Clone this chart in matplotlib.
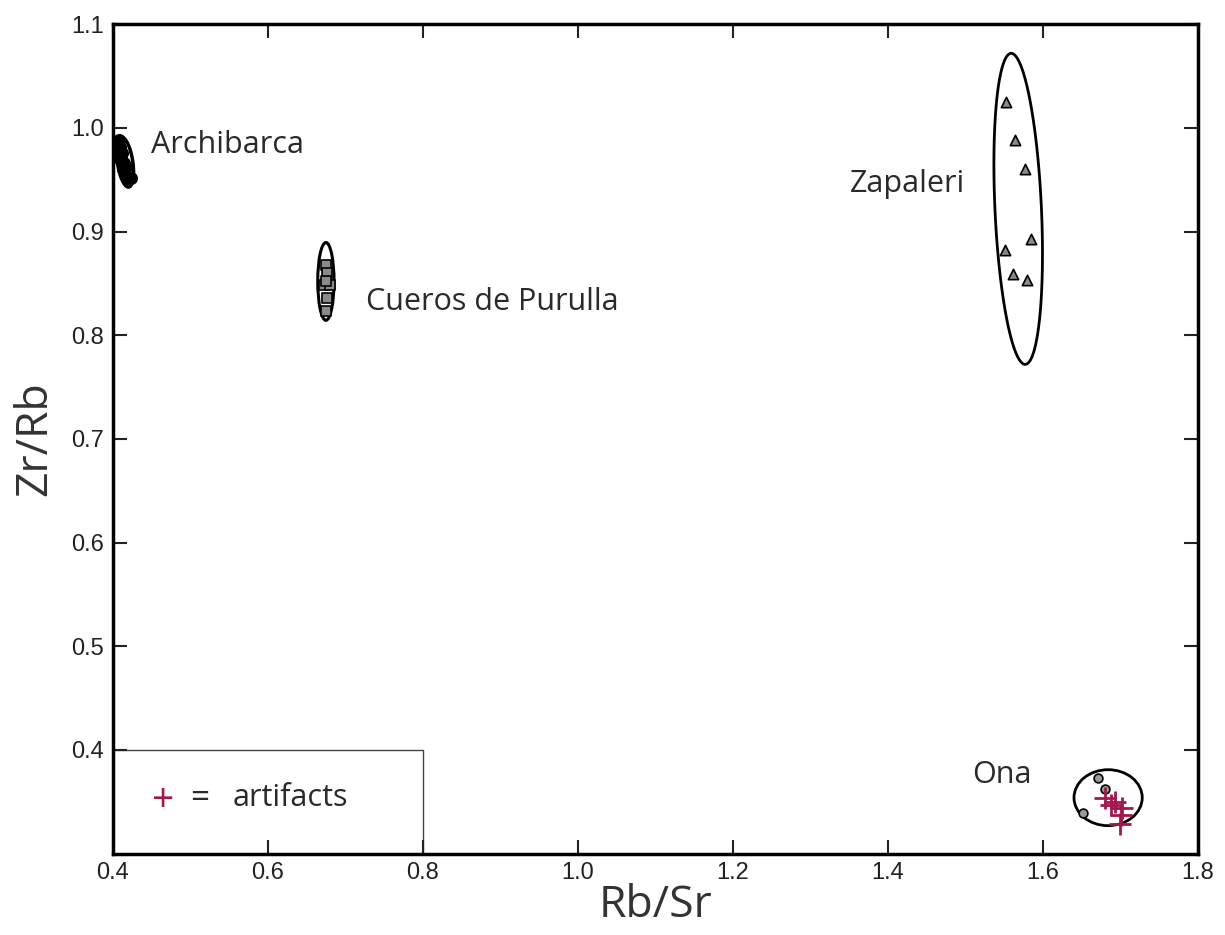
import matplotlib
matplotlib.use("Agg")
import matplotlib.pyplot as plt
import numpy as np
from matplotlib.patches import Ellipse, Polygon

# ---- data ----
archibarca_x = [0.408, 0.410, 0.412, 0.409, 0.414, 0.413, 0.416, 0.419, 0.423, 0.411, 0.417]
archibarca_y = [0.988, 0.982, 0.976, 0.970, 0.966, 0.960, 0.956, 0.952, 0.952, 0.974, 0.962]

cueros_x = [0.675, 0.677, 0.672, 0.680, 0.675, 0.676, 0.675]
cueros_y = [0.868, 0.860, 0.849, 0.849, 0.852, 0.836, 0.823]

zapaleri_x = [1.552, 1.564, 1.577, 1.585, 1.551, 1.561, 1.579]
zapaleri_y = [1.025, 0.988, 0.960, 0.893, 0.882, 0.859, 0.853]

ona_x = [1.671, 1.680, 1.652]
ona_y = [0.373, 0.362, 0.339]

artifact_x = [1.680, 1.693, 1.702, 1.701, 1.699, 1.688]
artifact_y = [0.354, 0.350, 0.344, 0.337, 0.329, 0.347]

source_names = ["Archibarca", "Cueros de Purulla", "Zapaleri", "Ona"]
label_pos = [(0.450, 0.984), (0.727, 0.832), (1.351, 0.946), (1.508, 0.376)]

x_ticks = [0.4, 0.6, 0.8, 1.0, 1.2, 1.4, 1.6, 1.8]
y_ticks = [0.4, 0.5, 0.6, 0.7, 0.8, 0.9, 1.0, 1.1]

crimson = "#a3174e"
label_font = ["Open Sans", "DejaVu Sans"]
tick_font = ["Liberation Sans", "DejaVu Sans"]
txt_col = "#2a2a2a"

fig = plt.figure(figsize=(12.25, 9.35), dpi=100)
ax = fig.add_axes([0.092, 0.087, 0.886, 0.887])
ax.set_xlim(0.4, 1.8)
ax.set_ylim(0.3, 1.1)

# groups
ax.scatter(archibarca_x, archibarca_y, s=70, c="black", edgecolors="black", zorder=3)
ax.scatter(cueros_x, cueros_y, s=45, marker="s", c="#8a8a8a", edgecolors="black", linewidths=1.2, zorder=3)
ax.scatter(zapaleri_x, zapaleri_y, s=55, marker="^", c="#8a8a8a", edgecolors="black", linewidths=1.2, zorder=3)
ax.scatter(ona_x, ona_y, s=40, marker="o", c="#9a9a9a", edgecolors="black", linewidths=1.2, zorder=3)
ax.scatter(artifact_x, artifact_y, s=260, marker="+", c=crimson, linewidths=2.0, zorder=4)

# enclosing ellipses
def sheared_ellipse(cx, cy, w, h, k):
    t = np.linspace(0, 2 * np.pi, 200)
    y = cy + h / 2 * np.sin(t)
    x = cx + w / 2 * np.cos(t) + k * (y - cy)
    return np.column_stack([x, y])

ax.add_patch(Polygon(sheared_ellipse(1.568, 0.922, 0.060, 0.300, -0.06), closed=True,
                     fill=False, ec="black", lw=2.0, zorder=2))
ax.add_patch(Ellipse((0.675, 0.852), 0.021, 0.075, fill=False, ec="black", lw=2.2, zorder=2))
ax.add_patch(Polygon(sheared_ellipse(0.416, 0.967, 0.020, 0.048, -0.18), closed=True,
                     fill=False, ec="black", lw=2.5, zorder=2))
ax.add_patch(Ellipse((1.684, 0.354), 0.088, 0.054, fill=False, ec="black", lw=2.0, zorder=2))

for name, (lx, ly) in zip(source_names, label_pos):
    ax.text(lx, ly, name, fontsize=22, family=label_font, color=txt_col,
            ha="left", va="center")

# artifacts legend box
ax.plot([0.4, 0.8, 0.8], [0.4, 0.4, 0.3], color="#444444", lw=1.0, zorder=1)
ax.text(0.4645, 0.351, "+", fontsize=28, family=label_font, color=crimson, ha="center", va="center")
ax.text(0.512, 0.353, "=", fontsize=24, family=label_font, color=txt_col, ha="center", va="center")
ax.text(0.555, 0.354, "artifacts", fontsize=22, family=label_font, color=txt_col,
        ha="left", va="center")

ax.set_xticks(x_ticks)
ax.set_xticklabels([f"{v:.1f}" for v in x_ticks], family=tick_font, fontsize=17)
ax.set_yticks(y_ticks)
ax.set_yticklabels([f"{v:.1f}" for v in y_ticks], family=tick_font, fontsize=17)
ax.tick_params(direction="in", length=10, width=1.5, top=True, right=True, pad=6, colors="#222222")
for s in ax.spines.values():
    s.set_linewidth(2.5)

ax.set_xlabel("Rb/Sr", fontsize=32, family=label_font, color="#333333", labelpad=0)
ax.set_ylabel("Zr/Rb", fontsize=32, family=label_font, color="#333333", labelpad=10)

fig.savefig("out.png", dpi=100)
